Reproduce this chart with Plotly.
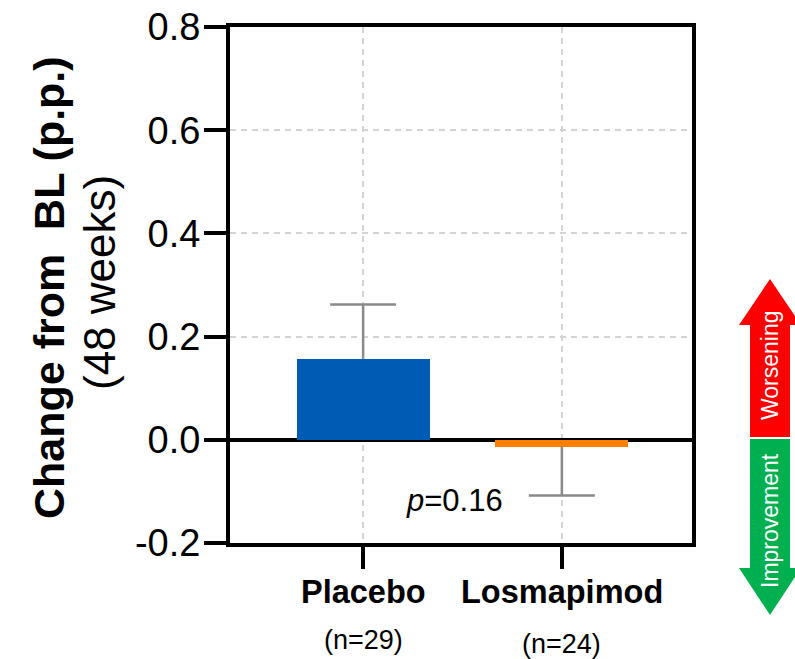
import plotly.graph_objects as go

# ---- data ----
groups = ["Placebo", "Losmapimod"]
n_labels = ["(n=29)", "(n=24)"]
values = [0.157, -0.013]
err_up = [0.105, 0.0]
err_down = [0.0, 0.095]
bar_colors = ["#005bb5", "#ff8000"]
y_tickvals = [-0.2, 0.0, 0.2, 0.4, 0.6, 0.8]
y_ticktext = ["-0.2", "0.0", "0.2", "0.4", "0.6", "0.8"]
p_text = "<i>p</i>=0.16"

FONT = "Liberation Sans, Arial, sans-serif"

# plot area in pixels
L, R, T, B = 230, 692, 27, 543
W, H = R - L, B - T


def px(x):
    return (x - L) / W


def py(y):
    return (B - y) / H


xs = list(range(len(groups)))
fig = go.Figure()
fig.add_trace(go.Bar(x=xs, y=values, width=0.67, marker=dict(color=bar_colors, line=dict(width=0)),
                     showlegend=False, hoverinfo="skip"))

# one-sided error bars
cap = 0.166
ex, ey = [], []
for i, (v, u, d) in enumerate(zip(values, err_up, err_down)):
    if u > 0:
        end = v + u
    else:
        end = v - d
    ex += [i, i, None, i - cap, i + cap, None]
    ey += [v, end, None, end, end, None]
fig.add_trace(go.Scatter(x=ex, y=ey, mode="lines", line=dict(color="#8a8a8a", width=2.5),
                         showlegend=False, hoverinfo="skip"))

annotations = []
for i, (g, n) in enumerate(zip(groups, n_labels)):
    annotations.append(dict(x=i, y=py(592), xref="x", yref="paper", text=f"<b>{g}</b>", showarrow=False,
                            xanchor="center", yanchor="middle", font=dict(size=32.5, color="black", family=FONT)))
    annotations.append(dict(x=i, y=py(640 + 4 * i), xref="x", yref="paper", text=n, showarrow=False,
                            xanchor="center", yanchor="middle", font=dict(size=27, color="black", family=FONT)))

annotations.append(dict(x=0.46, y=-0.118, xref="x", yref="y", text=p_text, showarrow=False,
                        xanchor="center", yanchor="middle", font=dict(size=31, color="black", family=FONT)))

# y axis title (two lines)
annotations.append(dict(x=px(49), y=py(288), xref="paper", yref="paper", text="<b>Change from  BL (p.p.)</b>",
                        textangle=-90, showarrow=False, xanchor="center", yanchor="middle",
                        font=dict(size=43, color="black", family=FONT)))
annotations.append(dict(x=px(99), y=py(283), xref="paper", yref="paper", text="(48 weeks)",
                        textangle=-90, showarrow=False, xanchor="center", yanchor="middle",
                        font=dict(size=44, color="black", family=FONT)))

# arrow labels
annotations.append(dict(x=px(770), y=py(365), xref="paper", yref="paper", text="Worsening",
                        textangle=-90, showarrow=False, xanchor="center", yanchor="middle",
                        font=dict(size=23, color="white", family=FONT)))
annotations.append(dict(x=px(770), y=py(521), xref="paper", yref="paper", text="Improvement",
                        textangle=-90, showarrow=False, xanchor="center", yanchor="middle",
                        font=dict(size=23, color="white", family=FONT)))


def path(points):
    return "M " + " L ".join(f"{px(a):.5f},{py(b):.5f}" for a, b in points) + " Z"


red_pts = [(770, 279), (801, 325), (790, 325), (790, 437), (750, 437), (750, 325), (739, 325)]
green_pts = [(750, 439), (790, 439), (790, 568), (801, 568), (770, 615), (739, 568), (750, 568)]
shapes = [
    dict(type="path", xref="paper", yref="paper", path=path(red_pts), fillcolor="#ff0000", line=dict(width=0), layer="below"),
    dict(type="path", xref="paper", yref="paper", path=path(green_pts), fillcolor="#00b050", line=dict(width=0), layer="below"),
]

fig.update_layout(
    width=795, height=659,
    margin=dict(l=L, r=795 - R, t=T, b=659 - B, pad=0, autoexpand=False),
    plot_bgcolor="white", paper_bgcolor="white",
    font=dict(family=FONT, color="black"),
    bargap=0,
    annotations=annotations,
    shapes=shapes,
    xaxis=dict(range=[-0.67, 1.655], tickvals=xs, ticktext=["", ""], showticklabels=False, automargin=False,
               ticks="outside", ticklen=22, tickwidth=4, tickcolor="black",
               showline=True, linewidth=4, linecolor="black", mirror=True,
               showgrid=True, gridcolor="#d4d4d4", gridwidth=2, griddash="6px,5px", zeroline=False),
    yaxis=dict(range=[-0.2, 0.8], tickvals=y_tickvals, ticktext=y_ticktext, automargin=False,
               ticks="outside", ticklen=22, tickwidth=4, tickcolor="black", ticklabelstandoff=-4,
               tickfont=dict(size=38, color="black", family=FONT),
               showline=True, linewidth=4, linecolor="black", mirror=True,
               showgrid=True, gridcolor="#d4d4d4", gridwidth=2, griddash="6px,5px",
               zeroline=True, zerolinecolor="black", zerolinewidth=4),
)

fig.write_html("out.html", config={"displayModeBar": False},
               post_script="document.body.style.margin='0';document.body.style.overflow='hidden';")
